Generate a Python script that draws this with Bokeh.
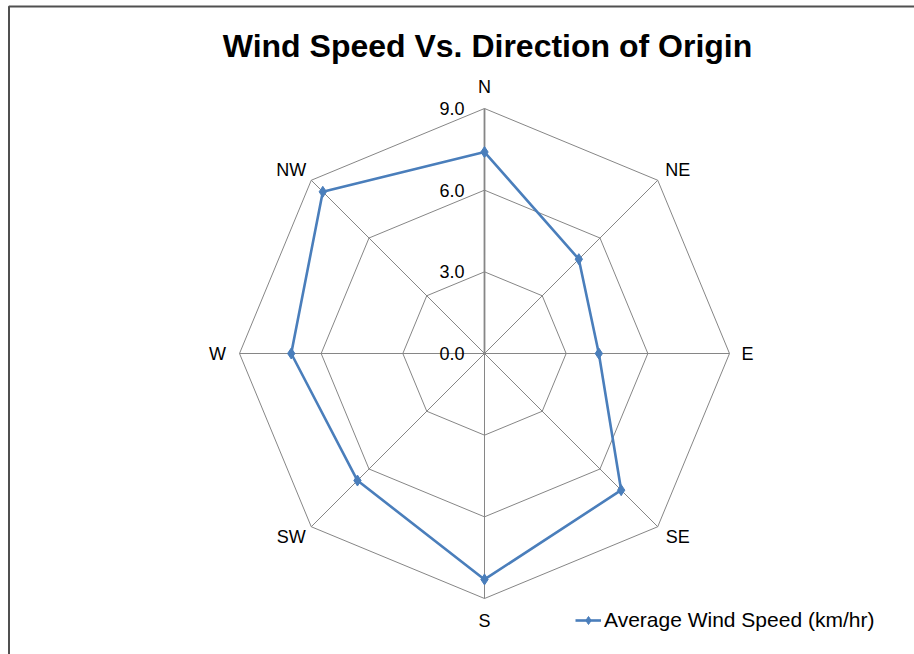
import numpy as np
from bokeh.plotting import figure
from bokeh.models import Legend, LegendItem
from bokeh.core.properties import value
from bokeh.embed import file_html
from bokeh.resources import INLINE

# ---- data ----
directions = ["N", "NE", "E", "SE", "S", "SW", "W", "NW"]
speeds = [7.4, 4.9, 4.2, 7.1, 8.3, 6.6, 7.1, 8.4]
ring_values = [3.0, 6.0, 9.0]
tick_values = [0.0, 3.0, 6.0, 9.0]
tick_labels = ["0.0", "3.0", "6.0", "9.0"]
title_text = "Wind Speed Vs. Direction of Origin"
series_name = "Average Wind Speed (km/hr)"

W, H = 914, 654
R_MAX = 9.0
PX = 245.0 / R_MAX          # pixels per unit
CX, CY = 484, 353           # centre in figure pixels (from left / top)

FONT = "Liberation Sans"
BLUE = "#4A7EBB"
GRID = "#868686"


def dx(px):
    return (px - CX) / PX


def dy(py):
    return (CY - py) / PX


p = figure(width=W, height=H, output_backend="svg", toolbar_location=None,
           x_range=(dx(0), dx(W)), y_range=(dy(H), dy(0)),
           min_border=0, outline_line_color=None, background_fill_color="white",
           border_fill_color="white")
p.axis.visible = False
p.grid.visible = False

n = len(directions)
ang = np.deg2rad(90 - 45 * np.arange(n))
ux, uy = np.cos(ang), np.sin(ang)

# rings
xs = [list(np.append(r * ux, r * ux[0])) for r in ring_values]
ys = [list(np.append(r * uy, r * uy[0])) for r in ring_values]
p.multi_line(xs, ys, line_color=GRID, line_width=1)

# spokes
sx = [[0, R_MAX * ux[i]] for i in range(1, n)]
sy = [[0, R_MAX * uy[i]] for i in range(1, n)]
p.multi_line(sx, sy, line_color=GRID, line_width=1)
# value axis (N spoke)
p.line([0, R_MAX * ux[0]], [0, R_MAX * uy[0]], line_color=GRID, line_width=1.8)

# tick labels
p.text(x=[0] * len(tick_values), y=tick_values, text=tick_labels,
       text_font=value(FONT), text_font_size="18px", text_color="#000000",
       text_align="right", text_baseline="middle", x_offset=-20)

# category labels
lx, ly = [], []
for i in range(n):
    if i % 2 == 0:
        d = 18 if directions[i] == "E" else 22
        off_x, off_y = d * ux[i], d * uy[i]
    else:
        off_x, off_y = 20 * np.sign(ux[i]), 10 * np.sign(uy[i])
    lx.append(R_MAX * ux[i] + off_x / PX)
    ly.append(R_MAX * uy[i] + off_y / PX)
p.text(x=lx, y=ly, text=directions, text_font=value(FONT), text_font_size="18px",
       text_color="#000000", text_align="center", text_baseline="middle")

# series
spd = np.array(speeds)
px_ = list(np.append(spd * ux, spd[0] * ux[0]))
py_ = list(np.append(spd * uy, spd[0] * uy[0]))
ln = p.line(px_, py_, line_color=BLUE, line_width=2.6)
mk = p.scatter(list(spd * ux), list(spd * uy), marker="diamond", size=11,
               fill_color=BLUE, line_color=BLUE)

# title
p.text(x=[dx(487)], y=[dy(45)], text=[title_text], text_font=value(FONT),
       text_font_size="32px", text_font_style="bold", text_color="#000000",
       text_align="center", text_baseline="middle")

legend = Legend(items=[LegendItem(label=series_name, renderers=[ln, mk])],
                location=(575, 22), padding=0, margin=0, border_line_color=None,
                background_fill_alpha=0, glyph_width=26, glyph_height=20,
                label_standoff=3, label_text_font=FONT, label_text_font_size="21px",
                label_text_color="#000000", label_height=20)
p.add_layout(legend, "center")

# chart border (left & top), a frame decoration only
p.line([dx(8.5), dx(8.5), dx(W + 10)], [dy(H + 10), dy(6), dy(6)],
       line_color="#505050", line_width=2)

open("out.html", "w").write(file_html(p, INLINE))
